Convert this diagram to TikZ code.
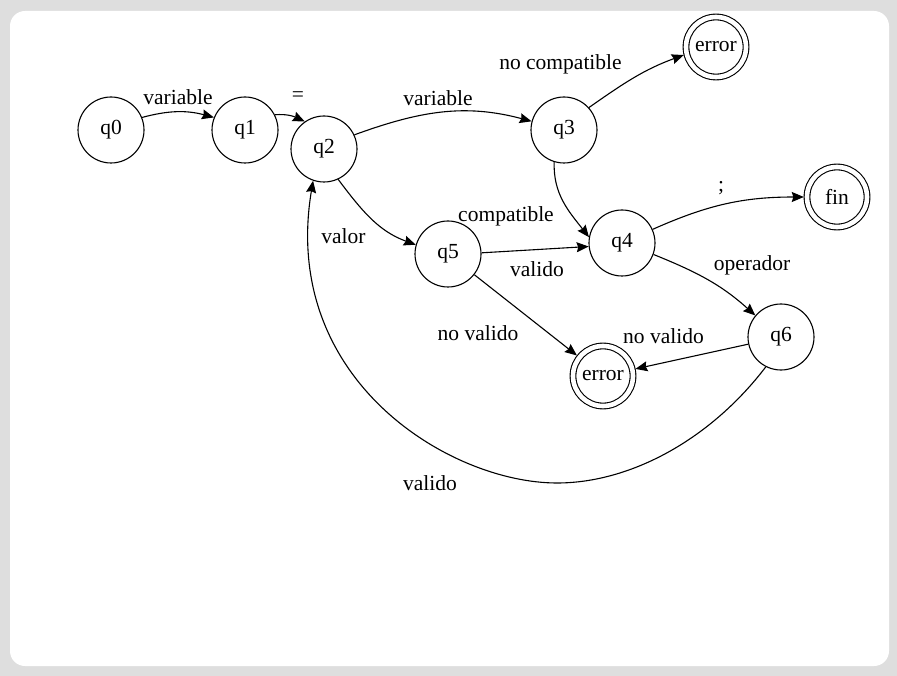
\documentclass[tikz,border=0pt]{standalone}
\usepackage{fontspec}
\setmainfont{Liberation Serif}
\usetikzlibrary{arrows.meta}
\definecolor{bggray}{HTML}{DEDEDE}
\begin{document}
\begin{tikzpicture}[x=1pt,y=-1pt,
  font=\fontsize{21.5pt}{25pt}\selectfont,
  st/.style={circle,draw,line width=1.1pt,minimum size=66pt,inner sep=0pt},
  acc/.style={circle,draw,line width=1.1pt,double,double distance=4.6pt,minimum size=60pt,inner sep=0pt,outer sep=3.2pt},
  edge/.style={draw,line width=1.1pt,-{Stealth[length=12pt,width=10pt,inset=1.5pt]}},
  lbl/.style={inner sep=0pt}]
\fill[bggray] (0,0) rectangle (897,676);
\fill[white,rounded corners=15pt] (10,11) rectangle (889,666);
\useasboundingbox (0,0) rectangle (897,676);
% states
\node[st] (q0) at (111,130) {q0};
\node[st] (q1) at (245,130) {q1};
\node[st] (q2) at (324,149) {q2};
\node[st] (q3) at (564,130) {q3};
\node[acc] (e1) at (716,47) {error};
\node[st] (q4) at (622,243) {q4};
\node[acc] (fin) at (837,197) {fin};
\node[st] (q5) at (448,254) {q5};
\node[st] (q6) at (781,337) {q6};
\node[acc] (e2) at (603,376) {error};
\coordinate (bot) at (557,483);
% edges
\draw[edge] (q0.22) to[out=15,in=165] (q1.158);
\draw[edge] (q1.27) to[out=5,in=155] (q2.125);
\draw[edge] (q2.25) to[out=20,in=165] (q3.165);
\draw[edge] (q3.42) to[out=35,in=-160] (e1.194);
\draw[edge] (q3.-107) to[out=-92,in=128] (q4.170);
\draw[edge] (q4.24) to[out=24,in=180] (fin.180);
\draw[edge] (q4.-20) to[out=-22,in=138] (q6.140);
\draw[edge] (q2.-65) to[out=-53,in=160] (q5.164);
\draw[edge] (q5.2) -- (q4.-174);
\draw[edge] (q5) -- (e2);
\draw[edge] (q6) -- (e2);
\draw[edge] (q6.-117) .. controls (710,440) and (630,483) .. (bot)
   .. controls (450,483) and (280,380) .. (q2.-109);
% labels
\node[lbl] (t1) at (178,97) {variable};
\node[lbl] (t2) at (298,97) {=};
\node[lbl] (t3) at (438,98) {variable};
\node[lbl] (t4) at (560.5,64) {no compatible};
\node[lbl] (t5) at (506,216) {compatible};
\node[lbl] (t6) at (537,269) {valido};
\node[lbl] (t7) at (721,188) {;};
\node[lbl] (t8) at (752,265) {operador};
\node[lbl] (t9) at (478,333) {no valido};
\node[lbl] (t10) at (663.5,336.5) {no valido};
\node[lbl] (t11) at (430,483.5) {valido};
\node[lbl] (t12) at (343.5,236) {valor};
\end{tikzpicture}
\end{document}
